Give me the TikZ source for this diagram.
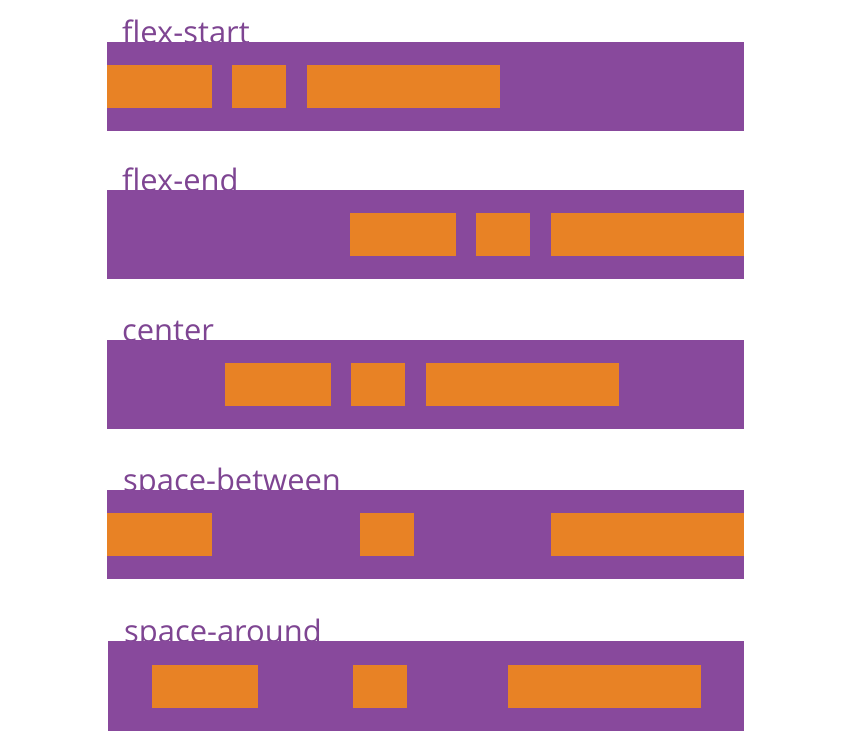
\documentclass[tikz,border=0pt]{standalone}
\usepackage{fontspec}
\setmainfont{Open Sans}
\definecolor{barpurple}{HTML}{88499C}
\definecolor{itemorange}{HTML}{E88225}
\definecolor{labelpurple}{HTML}{7E4592}
\begin{document}
\begin{tikzpicture}[x=1pt,y=-1pt,
  bar/.style={fill=barpurple,draw=none,inner sep=0pt,anchor=north west,minimum height=89pt},
  item/.style={fill=itemorange,draw=none,inner sep=0pt,anchor=north west,minimum height=43pt},
  lbl/.style={text=labelpurple,inner sep=0pt,anchor=base west,font=\fontsize{30.9}{36}\selectfont}]
\useasboundingbox (0,0) rectangle (845,748);
% labels (drawn first so bars cover their lower parts)
\node[lbl] (l1) at (122,43) {flex-start};
\node[lbl] (l2) at (122,191) {flex-end};
\node[lbl] (l3) at (122,341) {center};
\node[lbl] (l4) at (123,491) {space-between};
\node[lbl] (l5) at (124,642) {space-around};
% bars
\node[bar,minimum width=637pt] (b1) at (107,42) {};
\node[bar,minimum width=637pt] (b2) at (107,190) {};
\node[bar,minimum width=637pt] (b3) at (107,340) {};
\node[bar,minimum width=637pt] (b4) at (107,490) {};
\node[bar,minimum width=636pt,minimum height=90pt] (b5) at (108,641) {};
% flex-start
\node[item,minimum width=105pt] (a1) at (107,65) {};
\node[item,minimum width=54pt] (a2) at (232,65) {};
\node[item,minimum width=193pt] (a3) at (307,65) {};
% flex-end
\node[item,minimum width=106pt] (e1) at (350,213) {};
\node[item,minimum width=54pt] (e2) at (476,213) {};
\node[item,minimum width=193pt] (e3) at (551,213) {};
% center
\node[item,minimum width=106pt] (c1) at (225,363) {};
\node[item,minimum width=54pt] (c2) at (351,363) {};
\node[item,minimum width=193pt] (c3) at (426,363) {};
% space-between
\node[item,minimum width=105pt] (s1) at (107,513) {};
\node[item,minimum width=54pt] (s2) at (360,513) {};
\node[item,minimum width=193pt] (s3) at (551,513) {};
% space-around
\node[item,minimum width=106pt] (r1) at (152,665) {};
\node[item,minimum width=54pt] (r2) at (353,665) {};
\node[item,minimum width=193pt] (r3) at (508,665) {};
\end{tikzpicture}
\end{document}
